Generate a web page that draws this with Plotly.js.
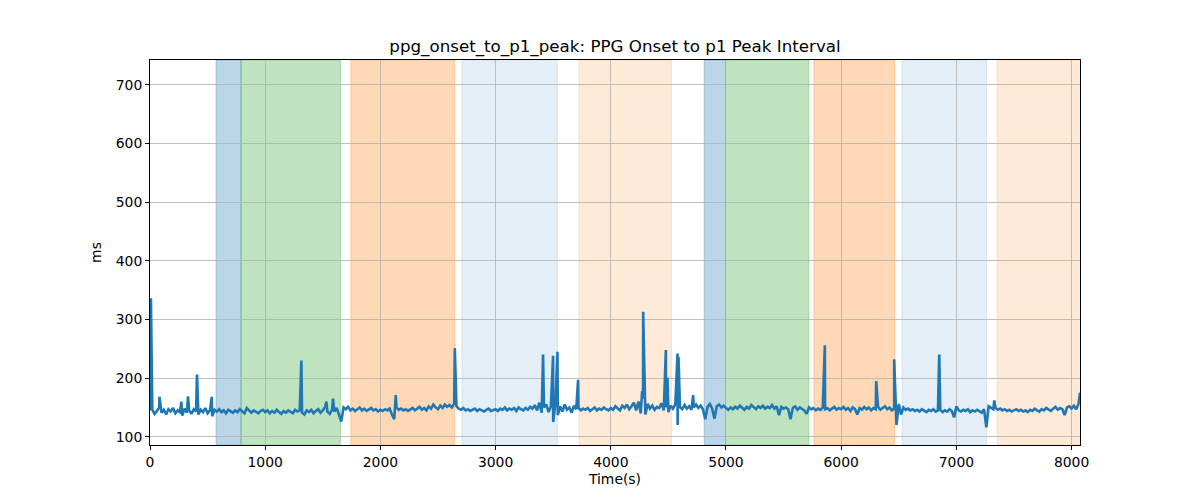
<!DOCTYPE html>
<html>
<head>
<meta charset="utf-8">
<script src="https://cdn.plot.ly/plotly-3.0.1.min.js"></script>
<style>
  html, body { margin: 0; padding: 0; background: #fff; }
  #chart { width: 1200px; height: 500px; }
</style>
</head>
<body>
<div id="chart"></div>
<script>
// baseline samples, one every 20 s starting at t = 0
const sampleStep = 20;
const baselineMs = [
  145,146,139,144,150,141,146,138,147,143,149,140,145,142,136,148,141,145,139,147,143,138,146,142,149,140,145,135,146,143,147,142,145,140,146,143,141,145,142,147,143,140,149,144,141,145,143,140,144,146,
  142,145,140,144,141,146,142,139,144,141,145,142,140,146,143,145,141,138,145,142,146,140,144,147,141,145,151,143,139,146,143,149,138,126,150,147,151,145,148,144,147,150,145,148,144,146,149,145,147,143,
  146,144,147,145,148,138,130,150,146,148,145,147,144,146,149,145,148,151,146,149,145,152,148,155,150,147,153,149,155,151,154,150,156,152,148,146,149,145,147,144,146,148,144,147,145,143,146,148,144,146,
  147,144,148,146,150,145,148,146,149,144,150,147,145,149,146,151,148,154,145,158,141,150,155,142,152,125,158,137,152,143,155,146,150,141,153,147,149,145,148,146,149,144,147,150,145,148,146,150,147,145,
  149,146,152,148,145,153,149,155,147,152,158,145,160,140,165,138,156,148,153,146,151,149,157,145,150,142,153,148,155,120,151,147,154,148,152,146,150,155,149,153,147,130,151,156,148,131,152,155,150,153,
  149,146,150,147,151,148,153,149,146,151,148,154,150,147,152,149,153,148,151,149,154,148,152,137,151,148,150,147,130,149,152,146,150,148,145,139,150,147,149,145,148,146,150,147,149,145,148,151,146,149,
  147,151,146,149,144,150,147,138,149,146,151,147,150,145,149,147,151,146,149,152,147,150,145,148,120,156,138,150,146,148,145,147,144,146,143,147,145,142,146,144,147,143,145,146,142,145,143,147,144,133,
  152,145,143,146,144,147,142,145,143,146,144,141,147,116,152,150,147,149,146,148,145,147,144,146,143,145,147,144,146,143,145,142,146,144,148,145,143,147,145,149,146,144,148,151,146,149,147,137,150,152,
  148,153,147,156
];

// isolated spikes: time (s) and value (ms)
const spikeTimes = [8, 82, 272, 330, 408, 536, 1314, 1531, 1589, 2133, 2646, 3412, 3499, 3537, 3716,
  4272, 4281, 4478, 4492, 4579, 4588, 4715, 5858, 6304, 6460, 6851, 7329, 8073];
const spikeMs = [336, 168, 160, 169, 206, 168, 230, 160, 165, 171, 251, 240, 238, 245, 197,
  178, 313, 248, 201, 242, 236, 171, 256, 195, 232, 240, 162, 175];

// shaded phases
const bandStart = [573, 790, 1743, 2707, 3725, 4810, 4996, 5763, 6527, 7352];
const bandEnd   = [790, 1653, 2646, 3537, 4527, 4996, 5719, 6466, 7262, 8100];
const bandKind  = ['a', 'b', 'c', 'd', 'e', 'a', 'b', 'c', 'd', 'e'];

const xTicks = [0, 1000, 2000, 3000, 4000, 5000, 6000, 7000, 8000];
const yTicks = [100, 200, 300, 400, 500, 600, 700];

const bandColors = {
  a: 'rgba(31,119,180,0.3)',
  b: 'rgba(44,160,44,0.3)',
  c: 'rgba(255,127,14,0.3)',
  d: 'rgba(31,119,180,0.12)',
  e: 'rgba(255,127,14,0.16)'
};

// merge baseline and spikes into one time-ordered series
const pts = baselineMs.map((v, i) => [i * sampleStep, v]);
spikeTimes.forEach((t, i) => pts.push([t, spikeMs[i]]));
pts.sort((p, q) => p[0] - q[0]);

const trace = {
  x: pts.map(p => p[0]),
  y: pts.map(p => p[1]),
  type: 'scatter',
  mode: 'lines',
  line: { color: '#1f77b4', width: 2.6 },
  hoverinfo: 'skip'
};

const shapes = bandStart.map((s, i) => ({
  type: 'rect', xref: 'x', yref: 'paper',
  x0: s, x1: bandEnd[i], y0: 0, y1: 1,
  fillcolor: bandColors[bandKind[i]],
  line: { color: bandColors[bandKind[i]], width: 1 },
  layer: 'below'
}));

const font = { family: 'DejaVu Sans, sans-serif', size: 13.9, color: '#000' };

const axisBase = {
  showline: true, mirror: true, linecolor: '#000', linewidth: 1,
  ticks: 'outside', ticklen: 4, tickcolor: '#000', tickwidth: 1,
  showgrid: true, gridcolor: '#b0b0b0', gridwidth: 0.8,
  zeroline: false, tickfont: font
};

const layout = {
  width: 1200, height: 500,
  margin: { l: 150, r: 120, t: 60, b: 55 },
  paper_bgcolor: '#fff', plot_bgcolor: '#fff',
  font: font,
  showlegend: false,
  title: {
    text: 'ppg_onset_to_p1_peak: PPG Onset to p1 Peak Interval',
    font: { family: 'DejaVu Sans, sans-serif', size: 16.7, color: '#000' },
    x: 0.5, xref: 'paper', y: 0.908, yref: 'container', yanchor: 'middle'
  },
  xaxis: Object.assign({}, axisBase, {
    range: [0, 8073], tickvals: xTicks,
    title: { text: 'Time(s)', font: font, standoff: 5 }
  }),
  yaxis: Object.assign({}, axisBase, {
    range: [86, 742], tickvals: yTicks,
    title: { text: 'ms', font: font, standoff: 10 }
  }),
  shapes: shapes
};

Plotly.newPlot('chart', [trace], layout, { displayModeBar: false, staticPlot: true });
</script>
</body>
</html>
